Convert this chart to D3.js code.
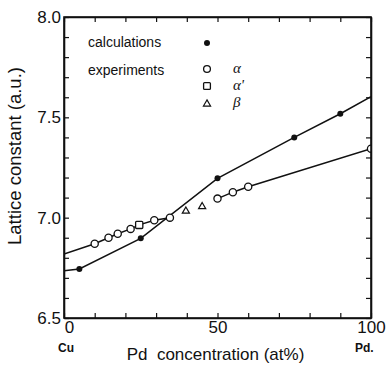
<!DOCTYPE html>
<html lang="en">
<head>
    <meta charset="UTF-8">
    <title>Lattice constant</title>
    <style>
        body{
            margin: 0;
            background-color: white;
            font-family: "Liberation Sans", Arial, sans-serif;
        }
        .axis text{
            font-size: 17px;
            fill: #111;
        }
        .axis path{
            stroke: #111;
            stroke-width: 1.6;
        }
        .axis line{
            stroke: #111;
            stroke-width: 1.2;
        }
    </style>
</head>
<body>
    <div id="chart"></div>
</body>
<script src="https://d3js.org/d3.v7.min.js"></script>
<script>

// calculations (filled dots)
let calcX = [0, 5, 25, 50, 75, 90, 100]
let calcY = [6.735, 6.744, 6.897, 7.196, 7.400, 7.518, 7.603]

// experiments, alpha phase (open circles) - Cu rich branch
let alphaLowX = [0, 10, 14.5, 17.5, 21.7, 29.4, 34.5]
let alphaLowY = [6.819, 6.870, 6.900, 6.920, 6.944, 6.987, 7.000]

// experiments, alpha' (open square)
let alphaPrimeX = [24.5]
let alphaPrimeY = [6.964]

// experiments, alpha phase - Pd rich branch
let alphaHighX = [50, 55, 60, 100]
let alphaHighY = [7.095, 7.127, 7.154, 7.344]

// experiments, beta (triangles)
let betaX = [39.7, 45]
let betaY = [7.033, 7.055]

let xTicks = [0, 10, 20, 30, 40, 50, 60, 70, 80, 90, 100]
let xLabels = [0, 50, 100]
let yTicks = d3.range(6.5, 8.001, 0.1)
let yLabels = [6.5, 7.0, 7.5, 8.0]

let margin = {top: 17, right: 16, bottom: 47, left: 64},
    w = 387,
    h = 365,
    width = w - margin.left - margin.right,
    height = h - margin.top - margin.bottom;

let svg = d3.select("#chart")
    .append("svg")
    .attr("width", w)
    .attr("height", h)
    .append("g")
    .attr("transform", `translate(${margin.left},${margin.top})`);

let xScale = d3.scaleLinear().domain([0, 100]).range([0, width])
let yScale = d3.scaleLinear().domain([6.5, 8.0]).range([height, 0])

// ticks on all four sides, pointing in
svg.append("g").attr("class", "axis")
    .attr("transform", `translate(0,${height})`)
    .call(d3.axisBottom(xScale).tickValues(xTicks).tickSizeInner(-5).tickSizeOuter(0).tickFormat(""))
svg.append("g").attr("class", "axis")
    .call(d3.axisTop(xScale).tickValues(xTicks).tickSizeInner(-5).tickSizeOuter(0).tickFormat(""))
svg.append("g").attr("class", "axis")
    .call(d3.axisLeft(yScale).tickValues(yTicks).tickSizeInner(-5).tickSizeOuter(0).tickFormat(""))
svg.append("g").attr("class", "axis")
    .attr("transform", `translate(${width},0)`)
    .call(d3.axisRight(yScale).tickValues(yTicks).tickSizeInner(-5).tickSizeOuter(0).tickFormat(""))

// tick labels
let xLab = svg.append("g").attr("class", "axis")
    .attr("transform", `translate(0,${height})`)
    .call(d3.axisBottom(xScale).tickValues(xLabels).tickSize(0).tickPadding(3).tickFormat(d3.format("d")))
xLab.select(".domain").remove()
xLab.selectAll("text").attr("dx", d => d == 0 ? 5 : 0)

let yLab = svg.append("g").attr("class", "axis")
    .call(d3.axisLeft(yScale).tickValues(yLabels).tickSize(0).tickPadding(3).tickFormat(d3.format(".1f")))
yLab.select(".domain").remove()

// lines
let line = d3.line()
    .x(d => xScale(d[0]))
    .y(d => yScale(d[1]))

let zip = (xs, ys) => xs.map((x, i) => [x, ys[i]])

let calc = zip(calcX, calcY)
let alphaLow = zip(alphaLowX.concat(alphaPrimeX), alphaLowY.concat(alphaPrimeY)).sort((a, b) => a[0] - b[0])
let alphaHigh = zip(alphaHighX, alphaHighY)

svg.append("defs").append("clipPath").attr("id", "plotClip")
    .append("rect").attr("width", width).attr("height", height)

let plot = svg.append("g").attr("clip-path", "url(#plotClip)")

plot.selectAll(".dataLine")
    .data([calc, alphaLow, alphaHigh])
    .join("path")
    .attr("class", "dataLine")
    .attr("d", d => line(d))
    .style("fill", "none")
    .style("stroke", "#111")
    .style("stroke-width", 1.5)

// markers
plot.selectAll(".calcDot")
    .data(calc.filter(d => d[0] > 0 && d[0] < 100))
    .join("circle")
    .attr("class", "calcDot")
    .attr("cx", d => xScale(d[0]))
    .attr("cy", d => yScale(d[1]))
    .attr("r", 3)
    .style("fill", "#111")

plot.selectAll(".alphaDot")
    .data(zip(alphaLowX, alphaLowY).filter(d => d[0] > 0).concat(alphaHigh))
    .join("circle")
    .attr("class", "alphaDot")
    .attr("cx", d => xScale(d[0]))
    .attr("cy", d => yScale(d[1]))
    .attr("r", 3.6)
    .style("fill", "white")
    .style("stroke", "#111")
    .style("stroke-width", 1.3)

plot.selectAll(".primeDot")
    .data(zip(alphaPrimeX, alphaPrimeY))
    .join("rect")
    .attr("class", "primeDot")
    .attr("x", d => xScale(d[0]) - 3.6)
    .attr("y", d => yScale(d[1]) - 3.6)
    .attr("width", 7.2)
    .attr("height", 7.2)
    .attr("rx", 1)
    .style("fill", "white")
    .style("stroke", "#111")
    .style("stroke-width", 1.3)

let tri = d3.symbol().type(d3.symbolTriangle).size(22)
plot.selectAll(".betaDot")
    .data(zip(betaX, betaY))
    .join("path")
    .attr("class", "betaDot")
    .attr("d", tri)
    .attr("transform", d => `translate(${xScale(d[0])},${yScale(d[1])})`)
    .style("fill", "white")
    .style("stroke", "#111")
    .style("stroke-width", 1.2)

// frame on top
svg.append("rect")
    .attr("width", width)
    .attr("height", height)
    .style("fill", "none")
    .style("stroke", "#111")
    .style("stroke-width", 1.6)

// legend
let legend = svg.append("g").attr("transform", "translate(24,0)")
legend.append("text").attr("x", 0).attr("y", 30).text("calculations")
    .style("font-size", "14px").style("fill", "#111")
legend.append("text").attr("x", 0).attr("y", 58).text("experiments")
    .style("font-size", "14px").style("fill", "#111")

legend.append("circle").attr("cx", 119).attr("cy", 26).attr("r", 3).style("fill", "#111")
legend.append("circle").attr("cx", 119).attr("cy", 52).attr("r", 3.4)
    .style("fill", "white").style("stroke", "#111").style("stroke-width", 1.3)
legend.append("rect").attr("x", 115.6).attr("y", 65.6).attr("width", 6.8).attr("height", 6.8).attr("rx", 1)
    .style("fill", "white").style("stroke", "#111").style("stroke-width", 1.3)
legend.append("path").attr("d", tri).attr("transform", "translate(119,87)")
    .style("fill", "white").style("stroke", "#111").style("stroke-width", 1.2)

let greek = [["α", 56], ["α'", 73], ["β", 90]]
legend.selectAll(".greek")
    .data(greek)
    .join("text")
    .attr("class", "greek")
    .attr("x", 145)
    .attr("y", d => d[1])
    .text(d => d[0])
    .style("font-family", "'Liberation Serif', serif")
    .style("font-style", "italic")
    .style("font-size", "15px")
    .style("fill", "#111")

// element names under the axis ends
svg.append("text").attr("x", -6).attr("y", 335).text("Cu")
    .style("font-size", "12px").style("font-weight", "bold").style("fill", "#111")
svg.append("text").attr("x", width - 16).attr("y", 335).text("Pd.")
    .style("font-size", "12px").style("font-weight", "bold").style("fill", "#111")

// axis titles
svg.append("text")
    .attr("x", width / 2 - 2)
    .attr("y", height + 42)
    .attr("text-anchor", "middle")
    .style("font-size", "17px")
    .style("white-space", "pre")
    .style("fill", "#111")
    .text("Pd  concentration (at%)")

svg.append("g")
    .attr("transform", `translate(${-43},${139})`)
    .append("text")
    .attr("transform", "rotate(-90)")
    .attr("text-anchor", "middle")
    .style("font-size", "18.5px")
    .style("fill", "#111")
    .text("Lattice constant (a.u.)")

</script>
</html>
